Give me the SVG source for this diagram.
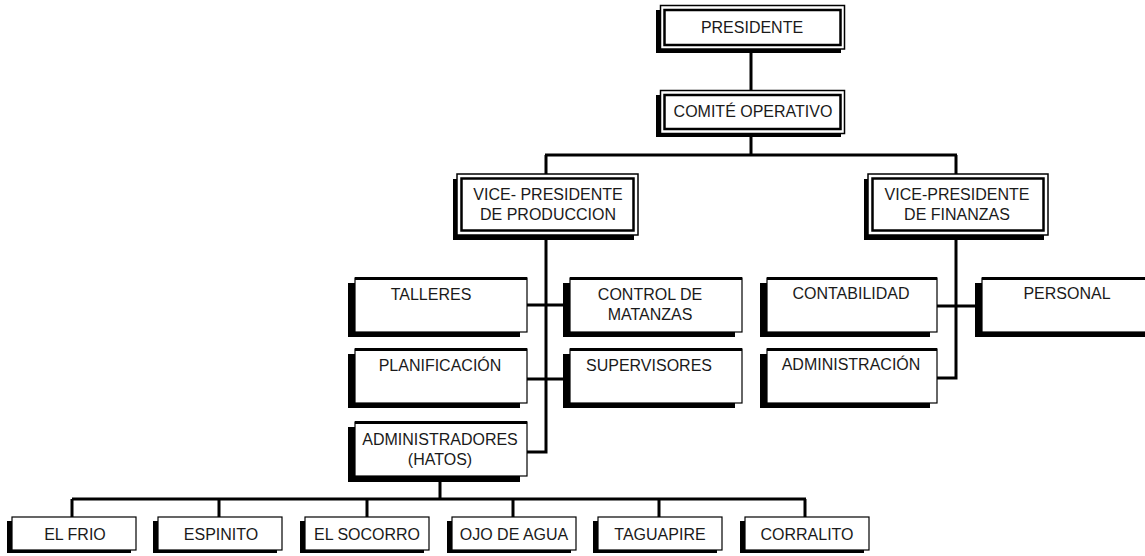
<svg xmlns="http://www.w3.org/2000/svg" width="1145" height="556" viewBox="0 0 1145 556">
<style>
text{font-family:"Liberation Sans",Arial,sans-serif;font-size:16px;fill:#1a1a1a;text-anchor:middle}
.sh{fill:#000}
.o{fill:#fff;stroke:#000;stroke-width:1.5}
.i{fill:none;stroke:#000;stroke-width:2.5}
.b{fill:#fff;stroke:#000;stroke-width:1.2}
.t{stroke:#000;stroke-width:3}
.c{fill:none;stroke:#000;stroke-width:3}
</style>
<rect width="1145" height="556" fill="#fff"/>
<g id="connectors">
<path class="c" d="M751 53V90M751 137V155M545 155H957M546 155V174M956 155V174"/>
<path class="c" d="M546 240V452H527M527 305H563M527 379H563"/>
<path class="c" d="M956 240V378H937M937 306H975"/>
<path class="c" d="M440 481V499M72 499H806M72 499V517M219 499V517M367 499V517M513 499V517M659 499V517M805 499V517"/>
</g>
<g id="presidente">
<rect class="sh" x="656" y="10" width="185" height="43"/>
<rect class="o" x="660.5" y="5.5" width="184" height="43.5"/>
<rect class="i" x="664.5" y="10" width="176" height="35"/>
<text x="752" y="33">PRESIDENTE</text>
</g>
<g id="comite">
<rect class="sh" x="656" y="95" width="185" height="42"/>
<rect class="o" x="660.5" y="90.5" width="184" height="43"/>
<rect class="i" x="664.5" y="95" width="176" height="34"/>
<text x="753" y="117">COMITÉ OPERATIVO</text>
</g>
<g id="vp-produccion">
<rect class="sh" x="453" y="179" width="181" height="61"/>
<rect class="o" x="457" y="174" width="181" height="61"/>
<rect class="i" x="461.5" y="178.5" width="172" height="52"/>
<text x="548" y="200">VICE- PRESIDENTE</text>
<text x="548" y="220">DE PRODUCCION</text>
</g>
<g id="vp-finanzas">
<rect class="sh" x="864" y="179" width="180" height="61"/>
<rect class="o" x="868" y="174" width="180" height="61"/>
<rect class="i" x="872.5" y="178.5" width="171" height="52"/>
<text x="957" y="200">VICE-PRESIDENTE</text>
<text x="957" y="220">DE FINANZAS</text>
</g>
<g id="talleres">
<rect class="sh" x="348" y="283" width="172" height="54"/>
<rect class="b" x="355" y="278" width="172" height="54"/>
<line class="t" x1="355" y1="278.5" x2="527" y2="278.5"/>
<text x="431" y="300">TALLERES</text>
</g>
<g id="control-matanzas">
<rect class="sh" x="563" y="283" width="172" height="54"/>
<rect class="b" x="570" y="278" width="172" height="54"/>
<line class="t" x1="570" y1="278.5" x2="742" y2="278.5"/>
<text x="650" y="300">CONTROL DE</text>
<text x="650" y="320">MATANZAS</text>
</g>
<g id="planificacion">
<rect class="sh" x="348" y="354" width="172" height="54"/>
<rect class="b" x="355" y="349" width="172" height="54"/>
<line class="t" x1="355" y1="349.5" x2="527" y2="349.5"/>
<text x="440" y="371">PLANIFICACIÓN</text>
</g>
<g id="supervisores">
<rect class="sh" x="563" y="354" width="172" height="54"/>
<rect class="b" x="570" y="349" width="172" height="54"/>
<line class="t" x1="570" y1="349.5" x2="742" y2="349.5"/>
<text x="649" y="371">SUPERVISORES</text>
</g>
<g id="administradores">
<rect class="sh" x="348" y="427" width="172" height="55"/>
<rect class="b" x="355" y="422" width="172" height="54"/>
<line class="t" x1="355" y1="422.5" x2="527" y2="422.5"/>
<text x="440" y="445">ADMINISTRADORES</text>
<text x="440" y="465">(HATOS)</text>
</g>
<g id="contabilidad">
<rect class="sh" x="760" y="283" width="170" height="54"/>
<rect class="b" x="767" y="278" width="170" height="54"/>
<line class="t" x1="767" y1="278.5" x2="937" y2="278.5"/>
<text x="851" y="299">CONTABILIDAD</text>
</g>
<g id="administracion">
<rect class="sh" x="760" y="354" width="170" height="54"/>
<rect class="b" x="767" y="349" width="170" height="54"/>
<line class="t" x1="767" y1="349.5" x2="937" y2="349.5"/>
<text x="851" y="370">ADMINISTRACIÓN</text>
</g>
<g id="personal">
<rect class="sh" x="975" y="283" width="175" height="54"/>
<rect class="b" x="982" y="278" width="175" height="54"/>
<line class="t" x1="982" y1="278.5" x2="1157" y2="278.5"/>
<text x="1067" y="299">PERSONAL</text>
</g>
<g id="el-frio">
<rect class="sh" x="7" y="521" width="124" height="32"/>
<rect class="b" x="12" y="517" width="124" height="33"/>
<text x="75" y="540">EL FRIO</text>
</g>
<g id="espinito">
<rect class="sh" x="153" y="521" width="124" height="32"/>
<rect class="b" x="158" y="517" width="124" height="33"/>
<text x="221" y="540">ESPINITO</text>
</g>
<g id="el-socorro">
<rect class="sh" x="300" y="521" width="124" height="32"/>
<rect class="b" x="305" y="517" width="124" height="33"/>
<text x="367" y="540">EL SOCORRO</text>
</g>
<g id="ojo-de-agua">
<rect class="sh" x="447" y="521" width="124" height="32"/>
<rect class="b" x="452" y="517" width="124" height="33"/>
<text x="514" y="540">OJO DE AGUA</text>
</g>
<g id="taguapire">
<rect class="sh" x="593" y="521" width="124" height="32"/>
<rect class="b" x="598" y="517" width="124" height="33"/>
<text x="660" y="540">TAGUAPIRE</text>
</g>
<g id="corralito">
<rect class="sh" x="740" y="521" width="124" height="32"/>
<rect class="b" x="745" y="517" width="124" height="33"/>
<text x="807" y="540">CORRALITO</text>
</g>
</svg>
